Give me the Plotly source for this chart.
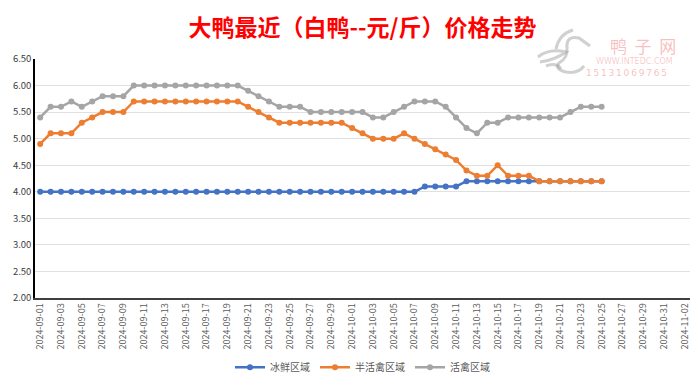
import plotly.graph_objects as go
import datetime as dt

start = dt.date(2024, 9, 1)
all_dates = [(start + dt.timedelta(days=i)).isoformat() for i in range(63)]
tick_dates = all_dates[::2]

ice = [4.0] * 37 + [4.1] * 4 + [4.2] * 14
half = [4.9, 5.1, 5.1, 5.1, 5.3, 5.4, 5.5, 5.5, 5.5] + [5.7] * 11 + \
       [5.6, 5.5, 5.4] + [5.3] * 7 + [5.2, 5.1, 5.0, 5.0, 5.0, 5.1, 5.0, 4.9, 4.8, 4.7, 4.6,
                                      4.4, 4.3, 4.3, 4.5, 4.3, 4.3, 4.3] + [4.2] * 7
live = [5.4, 5.6, 5.6, 5.7, 5.6, 5.7, 5.8, 5.8, 5.8] + [6.0] * 11 + \
       [5.9, 5.8, 5.7, 5.6, 5.6, 5.6] + [5.5] * 6 + \
       [5.4, 5.4, 5.5, 5.6, 5.7, 5.7, 5.7, 5.6, 5.4, 5.2, 5.1, 5.3, 5.3] + [5.4] * 6 + \
       [5.5, 5.6, 5.6, 5.6]
data_dates = all_dates[:len(ice)]

names = ["冰鲜区域", "半活禽区域", "活禽区域"]
colors = ["#4472C4", "#ED7D31", "#A5A5A5"]
series = [ice, half, live]

fig = go.Figure()
for n, c, s in zip(names, colors, series):
    fig.add_trace(go.Scatter(
        x=data_dates, y=s, name=n, mode="lines+markers",
        line=dict(color=c, width=2.5),
        marker=dict(color=c, size=6, symbol="circle"),
    ))

font_family = "Noto Sans CJK SC, Microsoft YaHei, sans-serif"
# page body has an 8px margin: size/margins compensate so the plot sits where the reference has it
W, H = 692, 378
ML, MR, MT, MB = 27, 10, 51, 88
fig.update_layout(
    width=W, height=H,
    margin=dict(l=ML, r=MR, t=MT, b=MB, autoexpand=False),
    paper_bgcolor="white", plot_bgcolor="white",
    font=dict(family=font_family, color="#595959", size=10),
    title=dict(text="<b>大鸭最近（白鸭--元/斤）价格走势</b>",
               x=0.5, xanchor="center", xref="paper", y=0.948, yanchor="middle",
               font=dict(size=23, color="#FF0000", family=font_family)),
    showlegend=True,
    legend=dict(orientation="h", x=0.5, xanchor="center", y=-0.29, yanchor="middle",
                font=dict(size=10, color="#595959"), itemwidth=30,
                traceorder="normal"),
    xaxis=dict(type="category", categoryorder="array", categoryarray=all_dates,
               range=[-0.5, len(all_dates) - 0.5], automargin=False,
               tickmode="array", tickvals=tick_dates, ticktext=tick_dates,
               tickangle=-90, tickfont=dict(size=9, color="#595959"),
               showgrid=False, showline=True, linecolor="#404040", linewidth=1.5,
               ticks="", zeroline=False),
    yaxis=dict(range=[2.0, 6.5], dtick=0.5, tickformat=".2f", automargin=False,
               tickfont=dict(size=9.5, color="#404040"),
               showgrid=True, gridcolor="#E0E0E0", gridwidth=1,
               showline=True, linecolor="#000000", linewidth=1.5,
               ticks="", zeroline=False),
)

# ---- watermark (decoration) ----
PW, PH = W - ML - MR, H - MT - MB


def px(sx):
    return (sx - 8 - ML) / PW


def py(sy):
    return (H - MB - (sy - 8)) / PH


nb = "\u00a0"
fig.add_annotation(text=("鸭" + nb * 2 + "子" + nb * 2 + "网"), xref="paper", yref="paper",
                   x=px(678), y=py(45.5), xanchor="right", yanchor="middle", showarrow=False,
                   font=dict(size=17, color="rgba(240,140,140,0.55)", family=font_family))
fig.add_annotation(text="WWW.INTEDC.COM", xref="paper", yref="paper", x=px(675), y=py(61.5),
                   xanchor="right", yanchor="middle", showarrow=False,
                   font=dict(size=8, color="rgba(240,140,140,0.45)", family="DejaVu Sans"))
fig.add_annotation(text="\u2009".join("15131069765"), xref="paper", yref="paper",
                   x=px(669), y=py(73), xanchor="right", yanchor="middle", showarrow=False,
                   font=dict(size=9, color="rgba(240,140,140,0.55)", family="DejaVu Sans"))


def path(cmds):
    out = []
    for c in cmds:
        if isinstance(c, str):
            out.append(c)
        else:
            out.append(f"{px(c[0]):.4f},{py(c[1]):.4f}")
    return " ".join(out)


bird = [
    ["M", (590, 46), "L", (579, 38), "Q", (566, 35), (567, 48), "Q", (568, 58), (559, 63),
     "Q", (554, 69), (566, 72), "Q", (578, 74), (584, 66)],
    ["M", (538, 57), "Q", (549, 48), (566, 52), "Q", (555, 60), (540, 62)],
    ["M", (546, 66), "Q", (556, 62), (561, 69)],
    ["M", (556, 49), "Q", (559, 34), (573, 30)],
]
for b in bird:
    fig.add_shape(type="path", xref="paper", yref="paper", path=path(b),
                  line=dict(color="rgba(150,150,150,0.45)", width=3))

fig.write_html("out.html")
